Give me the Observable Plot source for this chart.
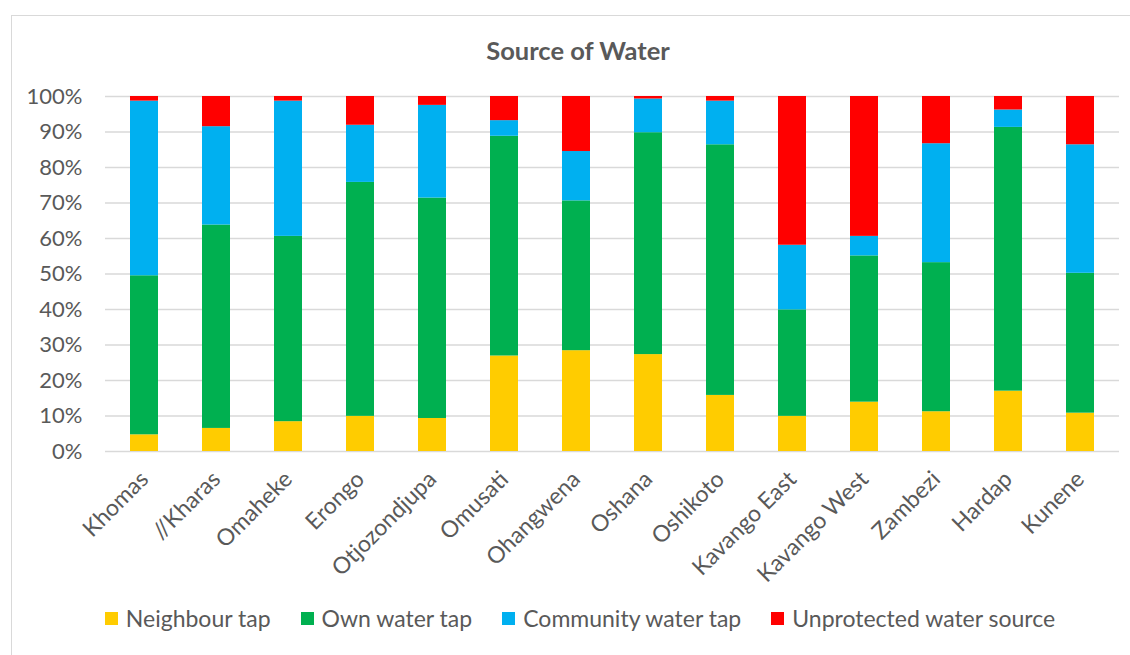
<!DOCTYPE html>
<html>
<head>
<meta charset="utf-8">
<script src="https://cdn.jsdelivr.net/npm/d3@7"></script>
<script src="https://cdn.jsdelivr.net/npm/@observablehq/plot@0.6"></script>
<style>
  html, body { margin: 0; padding: 0; background: #fff; overflow: hidden; }
  body { width: 1130px; height: 655px; position: relative; font-family: Lato, "Open Sans", sans-serif; color: #595959; }
  .frame { position: absolute; left: 11px; top: 15px; width: 1200px; height: 700px; border: 1px solid #d9d9d9; box-sizing: border-box; pointer-events: none; }
  .title { height: 75px; box-sizing: border-box; padding-top: 35px; line-height: 30px; width: 1156px; text-align: center; font-weight: bold; font-size: 25.5px; }
  #chart svg { display: block; }
  .legend { margin-top: 13px; width: 1160px; display: flex; justify-content: center; align-items: center; line-height: 30px; font-size: 23px; }
  .legend .item { display: flex; align-items: center; margin: 0 15px; }
  .legend .swatch { width: 13px; height: 13px; margin-right: 8px; }
</style>
</head>
<body>
<div class="frame"></div>
<div class="title">Source of Water</div>
<div id="chart"></div>
<div class="legend" id="legend"></div>
<script>
// Regions (x categories)
const regions = ["Khomas", "//Kharas", "Omaheke", "Erongo", "Otjozondjupa", "Omusati", "Ohangwena",
  "Oshana", "Oshikoto", "Kavango East", "Kavango West", "Zambezi", "Hardap", "Kunene"];

// Share of households by main source of water, in percent
const neighbourTap   = [4.7, 6.5, 8.4, 9.9, 9.3, 26.9, 28.4, 27.3, 15.8, 9.9, 13.9, 11.2, 17.0, 10.8];
const ownWaterTap    = [44.8, 57.3, 52.2, 65.9, 62.1, 61.9, 42.2, 62.5, 70.6, 30.0, 41.2, 42.0, 74.3, 39.4];
const communityTap   = [49.2, 27.7, 38.1, 16.1, 26.1, 4.4, 13.9, 9.5, 12.3, 18.2, 5.5, 33.5, 4.9, 36.2];
const unprotected    = [1.3, 8.5, 1.3, 8.1, 2.5, 6.8, 15.5, 0.7, 1.3, 41.9, 39.4, 13.3, 3.8, 13.6];

const seriesNames  = ["Neighbour tap", "Own water tap", "Community water tap", "Unprotected water source"];
const seriesColors = ["#FFCC00", "#00B050", "#00B0F0", "#FF0000"];
const yTicks = [0, 10, 20, 30, 40, 50, 60, 70, 80, 90, 100];

const seriesValues = [neighbourTap, ownWaterTap, communityTap, unprotected];
const rows = [];
seriesNames.forEach((s, si) => {
  regions.forEach((r, ri) => rows.push({region: r, source: s, value: seriesValues[si][ri]}));
});

const chart = Plot.plot({
  width: 1130,
  height: 515,
  marginTop: 21,
  marginBottom: 139,
  marginLeft: 105,
  marginRight: 11,
  style: {fontFamily: "Lato, 'Open Sans', sans-serif", fontSize: "22px", color: "#595959", background: "transparent"},
  x: {domain: regions, paddingInner: 0.61, paddingOuter: 0.305, label: null},
  y: {domain: [0, 100], label: null},
  color: {domain: seriesNames, range: seriesColors},
  marks: [
    Plot.ruleY(yTicks, {stroke: "#d9d9d9", strokeWidth: 1.5}),
    Plot.barY(rows, Plot.stackY({x: "region", y: "value", fill: "source", order: null})),
    Plot.axisY({ticks: yTicks, tickFormat: d => d + "%", tickSize: 0, tickPadding: 23, label: null}),
    Plot.axisX({tickSize: 0, tickPadding: 24, tickRotate: -45, fontSize: 23, label: null})
  ]
});
document.getElementById("chart").appendChild(chart);

// Legend beneath the plot
const legend = document.getElementById("legend");
seriesNames.forEach((name, i) => {
  const item = document.createElement("div");
  item.className = "item";
  const sw = document.createElement("span");
  sw.className = "swatch";
  sw.style.background = seriesColors[i];
  const label = document.createElement("span");
  label.textContent = name;
  item.appendChild(sw);
  item.appendChild(label);
  legend.appendChild(item);
});
</script>
</body>
</html>
